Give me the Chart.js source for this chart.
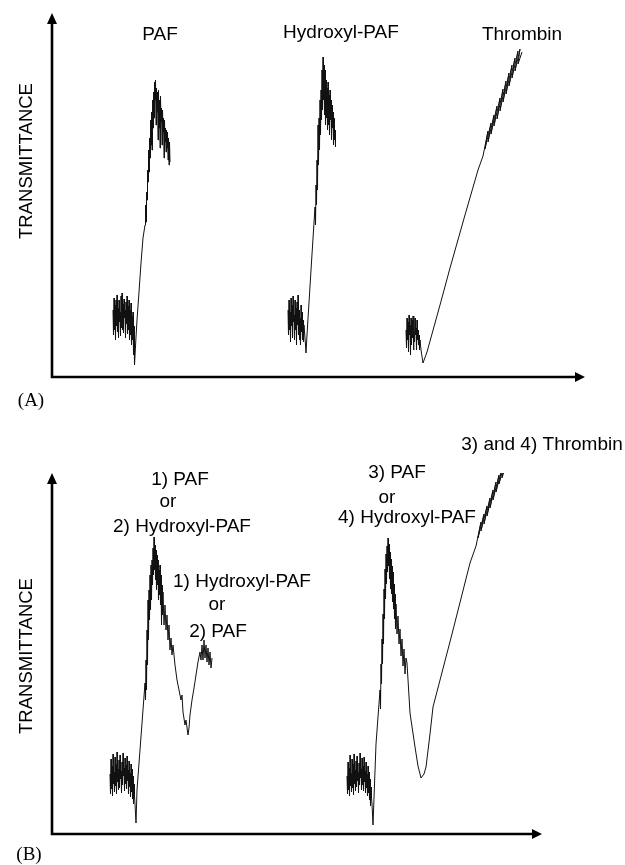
<!DOCTYPE html>
<html>
<head>
<meta charset="utf-8">
<title>Aggregation traces</title>
<script src="https://cdn.jsdelivr.net/npm/chart.js@4.4.1/dist/chart.umd.min.js"></script>
<style>
  html, body { margin: 0; padding: 0; background: #fff; }
  #page { position: relative; width: 625px; height: 865px; }
  .panel { position: absolute; left: 0; width: 625px; }
  #panelA { top: 0; height: 420px; }
  #panelB { top: 420px; height: 445px; }
</style>
</head>
<body>
<div id="page">
  <div class="panel" id="panelA"><canvas id="chartA"></canvas></div>
  <div class="panel" id="panelB"><canvas id="chartB"></canvas></div>
</div>
<script>
// time (s) and light transmittance (arb. units), panel A: single agonists
const pafTimeA = [61,61.5,62,62.5,63,63.5,64,64.5,65,65.5,66,66.5,67,67.5,68,68.5,69,69.5,70,70.5,71,71.5,72,72.5,73,73.5,74,74.5,75,75.5,76,76.5,77,77.5,78,78.5,79,79.5,80,80.5,81,81.5,82,82.5,84,85,
  87,89,91,93,93.5,94,94.5,95,95.5,96,96.5,97,97.5,98,98.5,99,99.5,100,100.5,101,101.5,102,102.5,103,103.5,104,104.5,105,105.5,106,106.5,107,107.5,108,108.5,109,109.5,110,110.5,111,111.5,112,112.5,113,113.5,114,114.5,115,115.5,116,116.5,117,117.5,118];
const pafSignalA = [67,42,79,47,72,37,77,51,82,45,69,39,77,55,65,41,81,49,84,47,73,44,78,59,67,39,75,53,81,43,71,47,77,37,67,42,74,32,61,37,65,22,51,12,40,57,
  85,114,139,152,172,155,185,177,207,195,227,205,239,219,257,232,265,227,277,249,285,259,295,277,297,252,289,265,285,237,287,249,277,229,281,255,269,232,267,245,259,219,257,235,249,225,247,229,245,217,239,212,235,215];

const hydroxylTimeA = [236,236.5,237,237.5,238,238.5,239,239.5,240,240.5,241,241.5,242,242.5,243,243.5,244,244.5,245,245.5,246,246.5,247,247.5,248,248.5,249,249.5,250,250.5,251,251.5,252,253,254,255,259,263,
  263.5,264,264.5,265,265.5,266,266.5,267,267.5,268,268.5,269,269.5,270,270.5,271,271.5,272,272.5,273,273.5,274,274.5,275,275.5,276,276.5,277,277.5,278,278.5,279,279.5,280,280.5,281,281.5,282,282.5,283,283.5];
const hydroxylSignalA = [67,42,77,47,65,35,79,51,72,39,81,55,62,37,77,47,69,32,75,52,82,42,67,37,59,32,72,45,65,37,57,35,52,39,24,42,107,170,
  152,192,172,217,187,252,212,259,227,277,242,287,257,307,267,320,277,312,262,307,252,297,259,289,247,295,252,282,242,287,257,277,237,272,249,265,232,259,237,247,230];

const thrombinTimeA = [354,354.5,355,355.5,356,356.5,357,357.5,358,358.5,359,359.5,360,360.5,361,361.5,362,362.5,363,363.5,364,364.5,365,365.5,366,366.5,367,367.5,368,369,371,375,388,398,413,426,
  431,436,433,439,436,442,439,445,442,448,445,451,448,454,451,457,454,460,457,463,460,466,463,468,466,470];
const thrombinSignalA = [47,29,59,37,55,25,62,42,52,22,59,32,57,39,61,27,52,35,59,42,49,27,57,37,47,32,42,27,37,27,14,25,72,109,162,207,
  221,246,228,254,235,262,243,271,251,279,258,288,266,296,275,304,283,312,291,319,299,326,306,328,313,325];

// panel B: two agonists added in sequence
const pafHydroxylTime = [58,58.5,59,59.5,60,60.5,61,61.5,62,62.5,63,63.5,64,64.5,65,65.5,66,66.5,67,67.5,68,68.5,69,69.5,70,70.5,71,71.5,72,72.5,73,73.5,74,74.5,75,75.5,76,76.5,77,77.5,78,78.5,79,79.5,80,80.5,81,81.5,82,82.5,83,84,85,93,
  93.5,94,94.5,95,95.5,96,96.5,97,97.5,98,98.5,99,99.5,100,100.5,101,101.5,102,102.5,103,103.5,104,104.5,105,105.5,106,106.5,107,107.5,108,108.5,109,109.5,110,110.5,111,
  112,113,114,115,116,117,118,119,120,121,123,125,127,129,130,131,133,134,136,137,138,140,142,144,146,148,149,150,151,152,153,154,155,156,157,158,159,160];
const pafHydroxylSignal = [60,40,75,45,68,38,80,50,62,42,77,48,70,40,82,52,65,44,74,46,79,55,63,41,72,49,81,58,66,43,76,50,69,45,78,53,64,40,73,47,61,37,70,42,65,35,58,30,50,38,30,11,44,151,
  134,174,144,204,169,234,194,244,214,259,224,269,234,274,249,286,259,297,264,289,254,284,244,279,249,274,234,264,239,269,229,259,209,249,219,242,
  209,229,204,219,194,209,184,196,179,189,169,154,144,134,139,122,109,114,99,106,119,134,146,159,172,182,174,189,174,194,176,189,172,186,169,182,166,176];

const pafThrombinTime = [295,295.5,296,296.5,297,297.5,298,298.5,299,299.5,300,300.5,301,301.5,302,302.5,303,303.5,304,304.5,305,305.5,306,306.5,307,307.5,308,308.5,309,309.5,310,310.5,311,311.5,312,312.5,313,313.5,314,314.5,315,315.5,316,316.5,317,317.5,318,318.5,319,319.5,320,321,324,328,
  328.5,329,329.5,330,330.5,331,331.5,332,332.5,333,333.5,334,334.5,335,335.5,336,336.5,337,337.5,338,338.5,339,339.5,340,340.5,341,341.5,342,342.5,343,343.5,
  344,345,346,347,348,349,350,351,352,353,354,355,358,363,366,369,372,374,378,381,400,418,
  424,429,426,432,429,435,432,438,435,441,438,444,441,447,444,450,447,453,450,455,452,456];
const pafThrombinSignal = [58,40,72,44,66,38,79,48,61,42,75,46,70,39,80,50,64,43,73,47,78,53,62,41,71,49,81,56,65,44,76,49,68,43,77,52,63,41,72,46,60,38,68,41,62,34,55,28,47,36,30,9,90,144,
  125,170,150,195,170,220,190,245,215,265,235,280,250,288,262,296,268,290,255,282,245,275,240,268,232,262,225,250,215,240,205,
  230,200,218,190,205,178,195,168,185,160,176,171,121,87,68,56,60,67,100,127,200,271,
  288,312,296,320,303,328,310,336,318,344,326,352,334,359,342,366,350,372,356,373,362,371];

const labelsA = ['PAF', 'Hydroxyl-PAF', 'Thrombin'];
const labelsB = ['1) PAF', 'or', '2) Hydroxyl-PAF', '1) Hydroxyl-PAF', 'or', '2) PAF',
  '3) PAF', 'or', '4) Hydroxyl-PAF', '3) and 4) Thrombin'];

const points = (xs, ys) => xs.slice(0, Math.min(xs.length, ys.length)).map((x, i) => ({ x, y: ys[i] }));

// axes drawn as plain lines with arrow heads, no ticks
const arrowAxes = {
  id: 'arrowAxes',
  afterDraw(chart) {
    const { ctx, chartArea: { left, right, top, bottom } } = chart;
    ctx.save();
    ctx.strokeStyle = '#000';
    ctx.fillStyle = '#000';
    ctx.lineWidth = 2.6;
    ctx.lineCap = 'square';
    ctx.beginPath();
    ctx.moveTo(left, top + 8);
    ctx.lineTo(left, bottom);
    ctx.lineTo(right - 8, bottom);
    ctx.stroke();
    ctx.beginPath();
    ctx.moveTo(left, top);
    ctx.lineTo(left - 5, top + 11);
    ctx.lineTo(left + 5, top + 11);
    ctx.closePath();
    ctx.moveTo(right, bottom);
    ctx.lineTo(right - 10, bottom - 5);
    ctx.lineTo(right - 10, bottom + 5);
    ctx.closePath();
    ctx.fill();
    ctx.restore();
  }
};

// agonist names, rotated axis title and panel letter
const notes = {
  id: 'notes',
  afterDatasetsDraw(chart, args, opts) {
    const { ctx, chartArea, scales: { x, y } } = chart;
    ctx.save();
    ctx.fillStyle = '#000';
    ctx.textAlign = 'center';
    ctx.textBaseline = 'middle';
    ctx.font = '19px "Liberation Sans", Arial, sans-serif';
    opts.items.forEach((n, i) => {
      ctx.fillText(opts.texts[i], x.getPixelForValue(n[0]), y.getPixelForValue(n[1]));
    });
    ctx.save();
    ctx.translate(chartArea.left - 25, y.getPixelForValue(opts.titleAt));
    ctx.rotate(-Math.PI / 2);
    ctx.font = '18.5px "Liberation Sans", Arial, sans-serif';
    ctx.fillText('TRANSMITTANCE', 0, 0);
    ctx.restore();
    ctx.font = '19px "Liberation Serif", "Times New Roman", serif';
    ctx.fillText(opts.letter, opts.letterPos[0], opts.letterPos[1]);
    ctx.restore();
  }
};

function makeChart(id, series, cfg) {
  return new Chart(document.getElementById(id), {
    type: 'scatter',
    data: {
      datasets: series.map(s => ({
        data: s,
        showLine: true,
        borderColor: '#111',
        borderWidth: 1,
        pointRadius: 0,
        tension: 0
      }))
    },
    options: {
      responsive: true,
      maintainAspectRatio: false,
      animation: false,
      layout: { padding: { top: cfg.padTop, right: cfg.padRight, left: 0, bottom: 0 } },
      scales: {
        x: {
          min: 0, max: cfg.xMax,
          ticks: { display: false }, grid: { display: false }, border: { display: false },
          afterFit: s => { s.height = cfg.below; }
        },
        y: {
          min: 0, max: cfg.yMax,
          ticks: { display: false }, grid: { display: false }, border: { display: false },
          afterFit: s => { s.width = 52; }
        }
      },
      plugins: {
        legend: { display: false },
        tooltip: { enabled: false },
        notes: cfg.notes
      }
    },
    plugins: [arrowAxes, notes]
  });
}

makeChart('chartA', [
  points(pafTimeA, pafSignalA),
  points(hydroxylTimeA, hydroxylSignalA),
  points(thrombinTimeA, thrombinSignalA)
], {
  padTop: 13, padRight: 40, below: 43, xMax: 533, yMax: 364,
  notes: {
    texts: labelsA,
    items: [[108, 342], [289, 344], [470, 342]],
    titleAt: 216,
    letter: '(A)', letterPos: [31, 401]
  }
});

makeChart('chartB', [
  points(pafHydroxylTime, pafHydroxylSignal),
  points(pafThrombinTime, pafThrombinSignal)
], {
  padTop: 53, padRight: 83, below: 31, xMax: 490, yMax: 361,
  notes: {
    texts: labelsB,
    items: [[128, 354], [116, 332], [130, 307], [190, 252], [165, 229], [166, 202],
            [345, 361], [335, 336], [355, 316], [490, 389]],
    titleAt: 178,
    letter: '(B)', letterPos: [29, 435]
  }
});
</script>
</body>
</html>
